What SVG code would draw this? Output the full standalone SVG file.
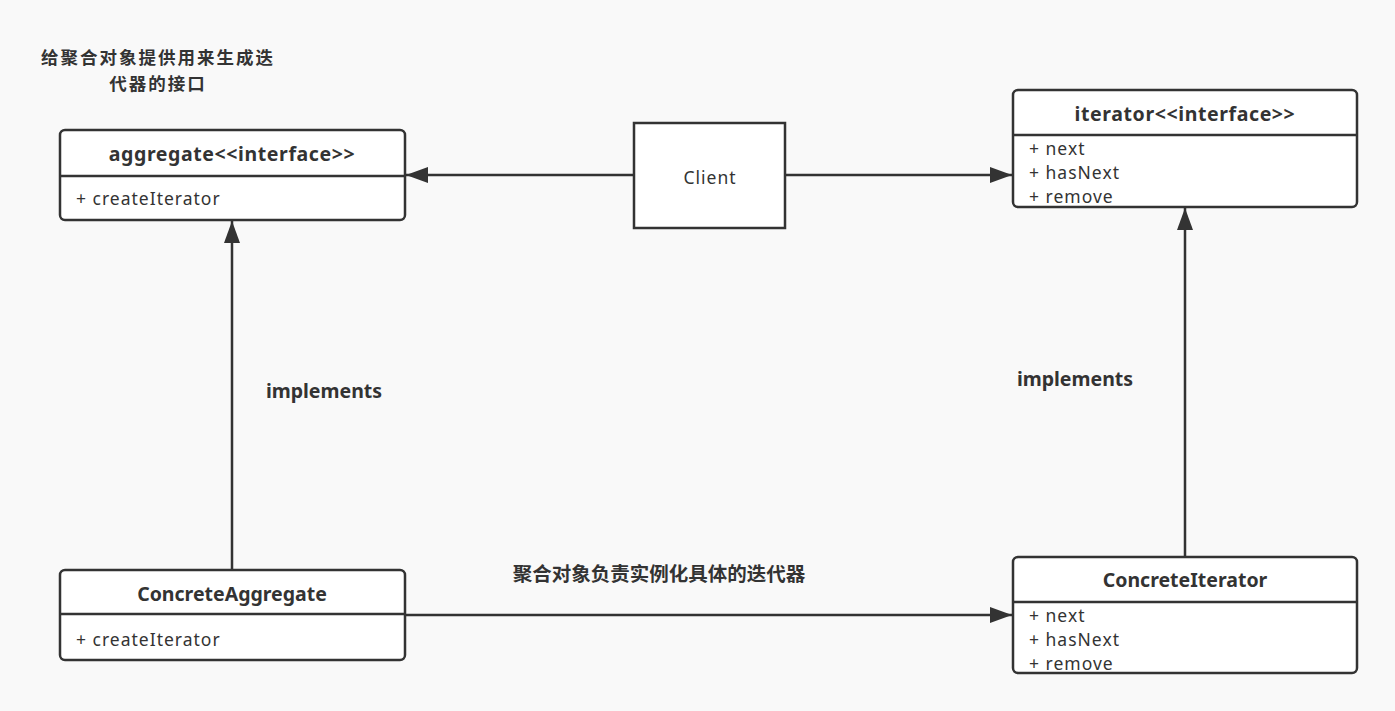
<svg xmlns="http://www.w3.org/2000/svg" width="1395" height="711" viewBox="0 0 1395 711">
<style>
.box{fill:#ffffff;stroke:#333333;stroke-width:2.5}
.div{stroke:#333333;stroke-width:2.5}
.title{font-family:"Noto Sans","Noto Sans CJK SC",sans-serif;font-weight:bold;font-size:19.5px;fill:#333333;text-anchor:middle}
.mem{font-family:"Noto Sans","Noto Sans CJK SC",sans-serif;font-size:17.5px;letter-spacing:1px;fill:#333333}
.lbl{font-family:"Noto Sans","Noto Sans CJK SC",sans-serif;font-weight:bold;font-size:19.5px;fill:#333333;text-anchor:middle}
.cjk{font-family:"Noto Sans CJK SC",sans-serif;font-weight:bold;font-size:19.5px;fill:#333333;text-anchor:middle}
.note{font-family:"Noto Sans CJK SC",sans-serif;font-weight:bold;font-size:17.5px;letter-spacing:2px;fill:#333333;text-anchor:middle}
.edge{stroke:#333333;stroke-width:2.5;fill:none}
</style>
<defs>
<marker id="arr" markerUnits="userSpaceOnUse" markerWidth="24" markerHeight="18" refX="22" refY="8" orient="auto">
<path d="M0,0 L22,8 L0,16 Z" fill="#333333"/>
</marker>
</defs>
<rect x="0" y="0" width="1395" height="711" fill="#f9f9f9"/>
<g id="note">
<text class="note" x="158" y="64">给聚合对象提供用来生成迭</text>
<text class="note" x="158" y="90">代器的接口</text>
</g>
<g id="connectors">
<line class="edge" x1="634" y1="175" x2="406" y2="175" marker-end="url(#arr)"/>
<line class="edge" x1="785" y1="175" x2="1012" y2="175" marker-end="url(#arr)"/>
<line class="edge" x1="232" y1="570" x2="232" y2="221" marker-end="url(#arr)"/>
<line class="edge" x1="1185" y1="557" x2="1185" y2="208" marker-end="url(#arr)"/>
<line class="edge" x1="405" y1="615" x2="1012" y2="615" marker-end="url(#arr)"/>
<text class="lbl" x="324" y="398">implements</text>
<text class="lbl" x="1075" y="386">implements</text>
<text class="cjk" x="659" y="581">聚合对象负责实例化具体的迭代器</text>
</g>
<g id="aggregate">
<rect class="box" x="60" y="130" width="345" height="90" rx="5"/>
<line class="div" x1="60" y1="176" x2="405" y2="176"/>
<text class="title" x="232" y="161" letter-spacing="0.6">aggregate&lt;&lt;interface&gt;&gt;</text>
<text class="mem" x="76" y="205">+ createIterator</text>
</g>
<g id="client">
<rect class="box" x="634" y="123" width="151" height="105"/>
<text class="mem" x="710" y="184" text-anchor="middle">Client</text>
</g>
<g id="iterator">
<rect class="box" x="1013" y="90" width="344" height="117" rx="5"/>
<line class="div" x1="1013" y1="135" x2="1357" y2="135"/>
<text class="title" x="1185" y="121" letter-spacing="0.6">iterator&lt;&lt;interface&gt;&gt;</text>
<text class="mem" x="1029" y="155">+ next</text>
<text class="mem" x="1029" y="179">+ hasNext</text>
<text class="mem" x="1029" y="203">+ remove</text>
</g>
<g id="concreteAggregate">
<rect class="box" x="60" y="570" width="345" height="90" rx="5"/>
<line class="div" x1="60" y1="614" x2="405" y2="614"/>
<text class="title" x="232" y="601">ConcreteAggregate</text>
<text class="mem" x="76" y="646">+ createIterator</text>
</g>
<g id="concreteIterator">
<rect class="box" x="1013" y="557" width="344" height="116" rx="5"/>
<line class="div" x1="1013" y1="602" x2="1357" y2="602"/>
<text class="title" x="1185" y="587">ConcreteIterator</text>
<text class="mem" x="1029" y="622">+ next</text>
<text class="mem" x="1029" y="646">+ hasNext</text>
<text class="mem" x="1029" y="670">+ remove</text>
</g>
</svg>
